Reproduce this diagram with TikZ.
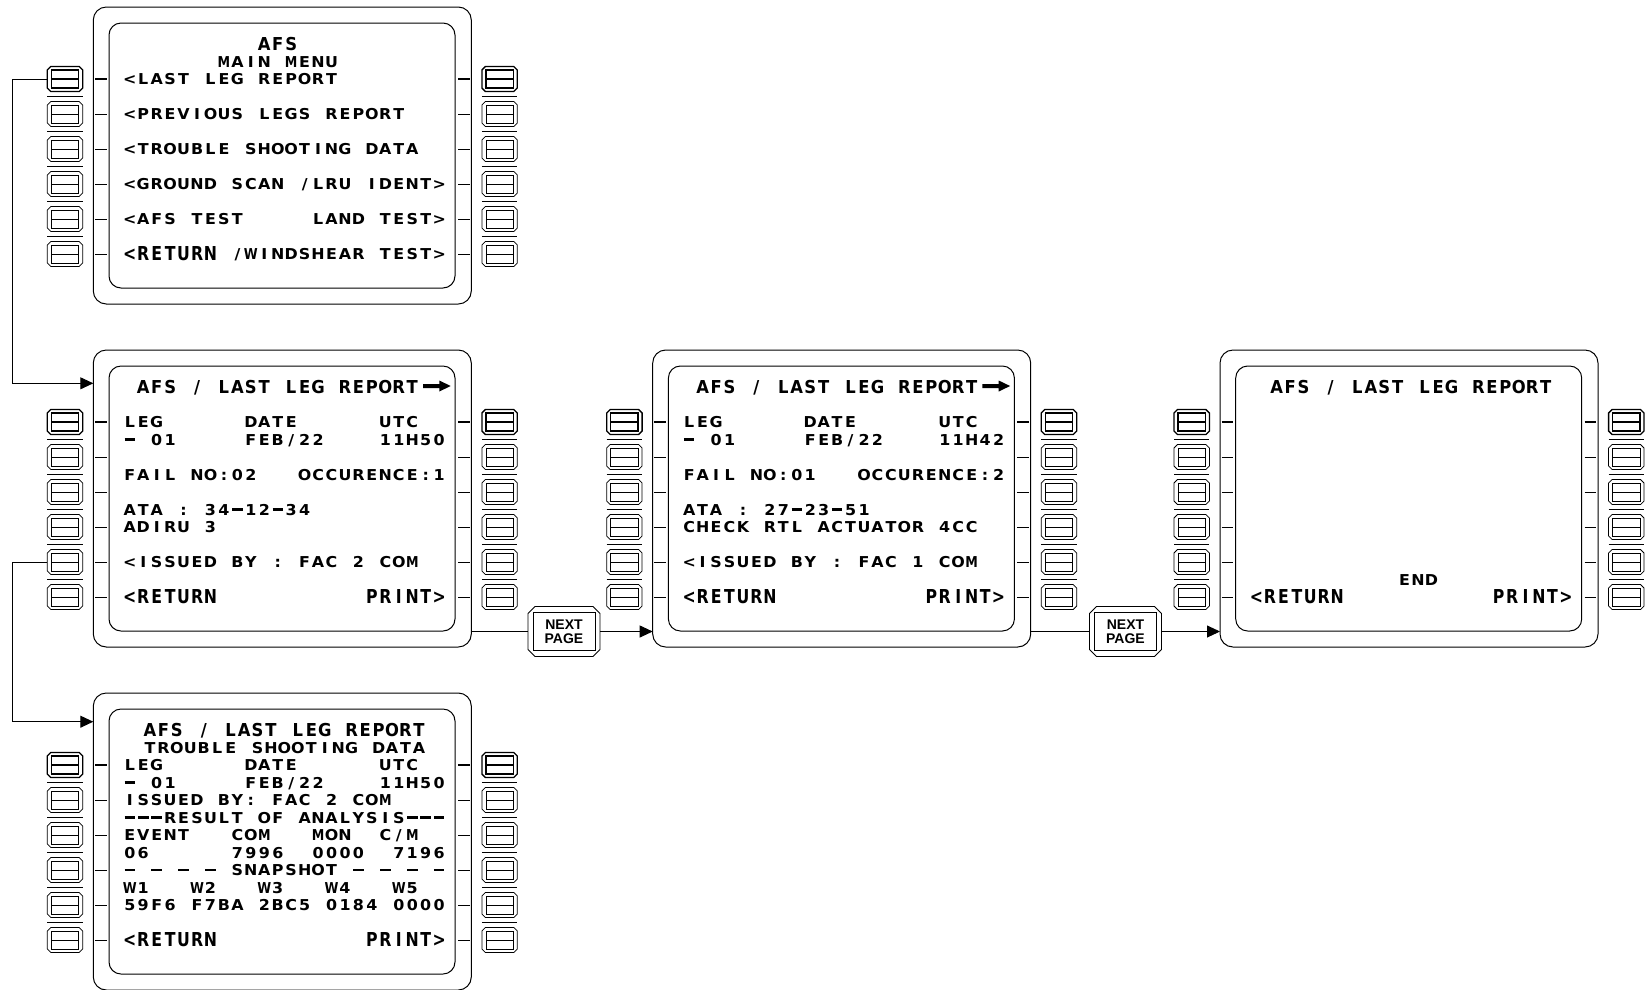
\documentclass[tikz,border=0pt]{standalone}
\usepackage{fontspec}
\usetikzlibrary{arrows.meta,calc}
\newfontfamily\mcfN[FakeStretch=1.06]{DejaVu Sans}
\newfontfamily\mcfT[FakeStretch=0.92]{DejaVu Sans}
\newfontfamily\mcfL[FakeStretch=0.82]{DejaVu Sans}
\newfontfamily\mcfNarrow[FakeStretch=0.84]{DejaVu Sans}
\newfontfamily\npfont{Liberation Sans}
\newcommand\mcfontN{\mcfN\bfseries\fontsize{15}{15}\selectfont}
\newcommand\mcfontT{\mcfT\bfseries\fontsize{17.8}{17.8}\selectfont}
\newcommand\mcfontL{\mcfL\bfseries\fontsize{19.2}{19.2}\selectfont}
\newcommand\npF{\npfont\bfseries\fontsize{14}{14.5}\selectfont}
\def\offN{5.5}\def\offT{6.4}\def\offL{6.9}

\ExplSyntaxOn
\dim_new:N \l_mc_pitch_dim
\dim_set:Nn \l_mc_pitch_dim { 13.45pt }
\cs_new_protected:Npn \mc_char:n #1
  {
    \hbox_to_wd:nn { \l_mc_pitch_dim }
      {
        \hss
        \str_case:nnF { #1 }
          {
            { _ } { }
            { - } { \rule[4.3pt]{10.5pt}{2.3pt} }
            { W } { { \mcfNarrow W } }
            { M } { { \mcfNarrow M } }
          }
          { #1 }
        \hss
      }
  }
\NewDocumentCommand \mono { m }
  { \str_map_function:nN { #1 } \mc_char:n }
\ExplSyntaxOff

\newcounter{tn}
% text on the MCDU grid: style (N/T/L), column, line, text (_ = space)
\newcommand\mt[4]{%
  \stepcounter{tn}%
  \edef\tmpname{\scr-t\number\value{tn}}%
  \node[mctext, font=\csname mcfont#1\endcsname] (\tmpname)
    at ({29.8+#2*13.45},{72+#3*17.5+\csname off#1\endcsname}) {\mono{#4}};}

% line select key: name, x, y, line width
\newcommand\lsk[4]{%
  \node[lsknode] (#1) at (#2,#3) {};
  \draw[line width=#4, shift={(#2,#3)}] (-14.2,-12.5) -- (14.2,-12.5) -- (17.7,-9) -- (17.7,9)
     -- (14.2,12.5) -- (-14.2,12.5) -- (-17.7,9) -- (-17.7,-9) -- cycle;
  \draw[line width=#4, shift={(#2,#3)}] (-13.65,-9) rectangle (13.65,9);
  \draw[line width=#4, shift={(#2,#3)}] (-13.65,0) -- (13.65,0);}

\newcommand\npbutton[3]{%
  \node[npnode] (#1) at (#2,#3) {NEXT\\PAGE};
  \draw[btnline, shift={(#2,#3)}] (-29,-25) -- (29,-25) -- (36,-18) -- (36,18) -- (29,25)
     -- (-29,25) -- (-36,18) -- (-36,-18) -- cycle;
  \draw[btnline, shift={(#2,#3)}] (-31,-19) rectangle (31,19);}

\newcommand\screenbody[1]{%
  \node[frameo] (#1) at (189,148.5) {};
  \node[framei] (#1-scr) at (188.7,148.5) {};
  \foreach \k in {1,...,6} {
    \pgfmathsetmacro\ry{72+35*(\k-1)}
    \ifnum\k=1 \def\lw{1.3pt}\else\def\lw{0.75pt}\fi
    \lsk{#1-L\k}{-28.3}{\ry}{\lw}
    \lsk{#1-R\k}{406.3}{\ry}{\lw}
    \draw[line width=\lw] (1.7,\ry) -- (13.3,\ry);
    \draw[line width=\lw] (364.7,\ry) -- (376.3,\ry);
    \ifnum\k<6
      \draw[sepline] (-46,\ry+17.5) -- (-10.6,\ry+17.5);
      \draw[sepline] (388.6,\ry+17.5) -- (424,\ry+17.5);
    \fi
  }}

\newcommand\titlearrow{%
  \fill (329.7,34) -- (346,34) -- (346,30.5) -- (357.4,36) -- (346,41.5) -- (346,38) -- (329.7,38) -- cycle;}

\tikzset{
  frameo/.style={draw, line width=1pt, rounded corners=13pt, minimum width=378pt,
    minimum height=297pt, inner sep=0pt, outer sep=0pt},
  framei/.style={draw, line width=1pt, rounded corners=12pt, minimum width=346pt,
    minimum height=265pt, inner sep=0pt, outer sep=0pt},
  lsknode/.style={minimum width=35.4pt, minimum height=25pt, inner sep=0pt, outer sep=0pt},
  npnode/.style={minimum width=72pt, minimum height=50pt, inner sep=0pt, outer sep=0pt,
    align=center, font=\npF},
  btnline/.style={line width=0.9pt},
  sepline/.style={line width=0.9pt},
  mctext/.style={anchor=base west, inner sep=0pt, outer sep=0pt},
  conn/.style={line width=0.9pt},
  arr/.style={conn, -{Triangle[length=13pt,width=12pt]}},
}

\begin{document}
\begin{tikzpicture}[x=1pt,y=-1pt]
\useasboundingbox (0,0) rectangle (1646,989);

% ---------- A : main menu ----------
\begin{scope}[shift={(93.3,7)}]
 \def\scr{A}
 \screenbody{A}
 \mt{T}{10}{-2}{AFS}
 \mt{N}{7}{-1}{MAIN_MENU}
 \mt{N}{0}{0}{<LAST_LEG_REPORT}
 \mt{N}{0}{2}{<PREVIOUS_LEGS_REPORT}
 \mt{N}{0}{4}{<TROUBLE_SHOOTING_DATA}
 \mt{N}{0}{6}{<GROUND_SCAN_/LRU_IDENT>}
 \mt{N}{0}{8}{<AFS_TEST_____LAND_TEST>}
 \mt{L}{0}{10}{<RETURN}
 \mt{N}{8}{10}{/WINDSHEAR_TEST>}
\end{scope}

% ---------- B : last leg report page 1 ----------
\begin{scope}[shift={(93.3,350)}]
 \def\scr{B}
 \screenbody{B}
 \mt{T}{1}{-2}{AFS_/_LAST_LEG_REPORT}
 \titlearrow
 \mt{N}{0}{0}{LEG}\mt{N}{9}{0}{DATE}\mt{N}{19}{0}{UTC}
 \mt{N}{0}{1}{-_01}\mt{N}{9}{1}{FEB/22}\mt{N}{19}{1}{11H50}
 \mt{N}{0}{3}{FAIL_NO:02}\mt{N}{13}{3}{OCCURENCE:1}
 \mt{N}{0}{5}{ATA_:_34-12-34}
 \mt{N}{0}{6}{ADIRU_3}
 \mt{N}{0}{8}{<ISSUED_BY_:_FAC_2_COM}
 \mt{L}{0}{10}{<RETURN}\mt{L}{18}{10}{PRINT>}
\end{scope}

% ---------- C : last leg report page 2 ----------
\begin{scope}[shift={(652.7,350)}]
 \def\scr{C}
 \screenbody{C}
 \mt{T}{1}{-2}{AFS_/_LAST_LEG_REPORT}
 \titlearrow
 \mt{N}{0}{0}{LEG}\mt{N}{9}{0}{DATE}\mt{N}{19}{0}{UTC}
 \mt{N}{0}{1}{-_01}\mt{N}{9}{1}{FEB/22}\mt{N}{19}{1}{11H42}
 \mt{N}{0}{3}{FAIL_NO:01}\mt{N}{13}{3}{OCCURENCE:2}
 \mt{N}{0}{5}{ATA_:_27-23-51}
 \mt{N}{0}{6}{CHECK_RTL_ACTUATOR_4CC}
 \mt{N}{0}{8}{<ISSUED_BY_:_FAC_1_COM}
 \mt{L}{0}{10}{<RETURN}\mt{L}{18}{10}{PRINT>}
\end{scope}

% ---------- D : end page ----------
\begin{scope}[shift={(1220,350)}]
 \def\scr{D}
 \screenbody{D}
 \mt{T}{1.5}{-2}{AFS_/_LAST_LEG_REPORT}
 \mt{N}{11}{9}{END}
 \mt{L}{0}{10}{<RETURN}\mt{L}{18}{10}{PRINT>}
\end{scope}

% ---------- E : trouble shooting data ----------
\begin{scope}[shift={(93.3,693)}]
 \def\scr{E}
 \screenbody{E}
 \mt{T}{1.5}{-2}{AFS_/_LAST_LEG_REPORT}
 \mt{N}{1.5}{-1}{TROUBLE_SHOOTING_DATA}
 \mt{N}{0}{0}{LEG}\mt{N}{9}{0}{DATE}\mt{N}{19}{0}{UTC}
 \mt{N}{0}{1}{-_01}\mt{N}{9}{1}{FEB/22}\mt{N}{19}{1}{11H50}
 \mt{N}{0}{2}{ISSUED_BY:_FAC_2_COM}
 \mt{N}{0}{3}{---RESULT_OF_ANALYSIS---}
 \mt{N}{0}{4}{EVENT}\mt{N}{8}{4}{COM}\mt{N}{14}{4}{MON}\mt{N}{19}{4}{C/M}
 \mt{N}{0}{5}{06}\mt{N}{8}{5}{7996}\mt{N}{14}{5}{0000}\mt{N}{20}{5}{7196}
 \mt{N}{0}{6}{-_-_-_-_SNAPSHOT_-_-_-_-}
 \mt{N}{0}{7}{W1}\mt{N}{5}{7}{W2}\mt{N}{10}{7}{W3}\mt{N}{15}{7}{W4}\mt{N}{20}{7}{W5}
 \mt{N}{0}{8}{59F6_F7BA_2BC5_0184_0000}
 \mt{L}{0}{10}{<RETURN}\mt{L}{18}{10}{PRINT>}
\end{scope}

% ---------- NEXT PAGE keys ----------
\npbutton{NP1}{564}{631.5}
\npbutton{NP2}{1125.5}{631.5}

% ---------- connectors ----------
\coordinate (B-in) at ($(B.north west)+(0,33.3)$);
\coordinate (E-in) at ($(E.north west)+(0,28.7)$);
\draw[arr] (A-L1.west) -- ++(-35.3,0) |- (B-in);
\draw[arr] (B-L5.west) -- ++(-35.3,0) |- (E-in);
\draw[conn] (B.east |- NP1) -- (NP1.west);
\draw[arr] (NP1.east) -- (C.west |- NP1);
\draw[conn] (C.east |- NP2) -- (NP2.west);
\draw[arr] (NP2.east) -- (D.west |- NP2);
\end{tikzpicture}
\end{document}
